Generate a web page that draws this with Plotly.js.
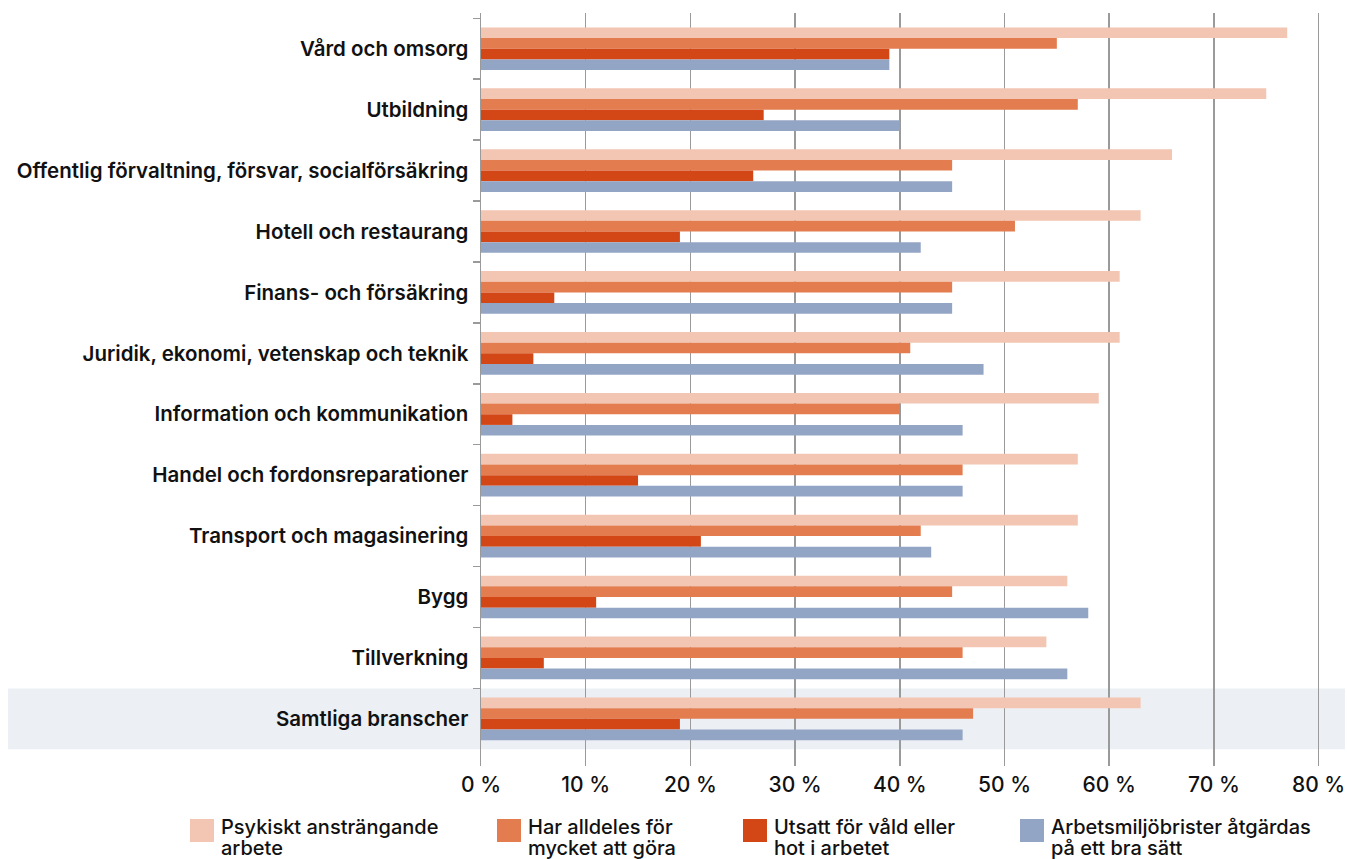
<!DOCTYPE html>
<html>
<head>
<meta charset="utf-8">
<script src="https://cdn.plot.ly/plotly-3.0.1.min.js"></script>
<style>html,body{margin:0;padding:0;background:#fff;}#chart{width:1347px;height:859px;}</style>
</head>
<body>
<div id="chart"></div>
<script>
const categories = [
  "Vård och omsorg",
  "Utbildning",
  "Offentlig förvaltning, försvar, socialförsäkring",
  "Hotell och restaurang",
  "Finans- och försäkring",
  "Juridik, ekonomi, vetenskap och teknik",
  "Information och kommunikation",
  "Handel och fordonsreparationer",
  "Transport och magasinering",
  "Bygg",
  "Tillverkning",
  "Samtliga branscher"
];
const seriesNames = [
  "Psykiskt ansträngande<br>arbete",
  "Har alldeles för<br>mycket att göra",
  "Utsatt för våld eller<br>hot i arbetet",
  "Arbetsmiljöbrister åtgärdas<br>på ett bra sätt"
];
const psykiskt   = [77, 75, 66, 63, 61, 61, 59, 57, 57, 56, 54, 63];
const forMycket  = [55, 57, 45, 51, 45, 41, 40, 46, 42, 45, 46, 47];
const vald       = [39, 27, 26, 19, 7, 5, 3, 15, 21, 11, 6, 19];
const atgardas   = [39, 40, 45, 42, 45, 48, 46, 46, 43, 58, 56, 46];
const xTicks = [0, 10, 20, 30, 40, 50, 60, 70, 80];

const seriesValues = [psykiskt, forMycket, vald, atgardas];
const colors = ["#F2C6B2", "#E37D50", "#D34716", "#93A5C5"];

const W = 1347, H = 859;
const L = 481, R = 2, T = 13, B = 93;
const pw = W - L - R, ph = H - T - B;
const px = x => (x - L) / pw;
const py = y => (H - B - y) / ph;

const font = "Inter, Roboto, 'Liberation Sans', Arial, sans-serif";

const traces = seriesValues.map((vals, i) => ({
  type: "bar",
  orientation: "h",
  name: seriesNames[i],
  x: vals,
  y: categories,
  marker: {color: colors[i], line: {width: 0}},
  showlegend: false,
  hoverinfo: "x+y"
}));

const shapes = [{
  type: "rect", xref: "paper", yref: "y", layer: "below",
  x0: px(8), x1: px(1345),
  y0: categories.length - 1.5, y1: categories.length - 0.5,
  fillcolor: "#ECEFF4", line: {width: 0}
}];
const annotations = [];
const legX = [190, 497, 743, 1020];
seriesNames.forEach((n, i) => {
  shapes.push({
    type: "rect", xref: "paper", yref: "paper",
    x0: px(legX[i]), x1: px(legX[i] + 24),
    y0: py(842), y1: py(819),
    fillcolor: colors[i], line: {width: 0}
  });
  n.split("<br>").forEach((line, j) => {
    annotations.push({
      xref: "paper", yref: "paper", x: px(legX[i] + 29), y: py(827 + j * 21),
      xanchor: "left", yanchor: "middle", align: "left", showarrow: false,
      text: line, font: {family: font, size: 20, color: "#111", weight: 500}
    });
  });
});

const layout = {
  width: W, height: H,
  margin: {l: L, r: R, t: T, b: B},
  paper_bgcolor: "#fff",
  plot_bgcolor: "rgba(0,0,0,0)",
  barmode: "group",
  bargap: 0.3,
  bargroupgap: 0,
  showlegend: false,
  font: {family: font, color: "#111"},
  xaxis: {
    range: [0, pw / 104.7 * 10],
    tickvals: xTicks,
    ticktext: xTicks.map(v => v + " %"),
    showgrid: true, gridcolor: "#9a9a9a", gridwidth: 1.5,
    zeroline: false, showline: false,
    ticks: "", tickfont: {family: font, size: 21, color: "#111", weight: 500},
    ticklabelstandoff: 4,
    fixedrange: true
  },
  yaxis: {
    type: "category",
    range: [categories.length - 1 + 0.5 + 0.274, -0.587],
    tickson: "boundaries",
    ticks: "outside", ticklen: 7, tickcolor: "#9a9a9a", tickwidth: 1.5,
    showline: true, linecolor: "#9a9a9a", linewidth: 1.5,
    showgrid: false, zeroline: false,
    tickfont: {family: font, size: 20.5, color: "#111", weight: 600},
    ticklabelstandoff: 7,
    fixedrange: true
  },
  shapes: shapes,
  annotations: annotations
};

Plotly.newPlot("chart", traces, layout, {displayModeBar: false, staticPlot: true});
</script>
</body>
</html>
